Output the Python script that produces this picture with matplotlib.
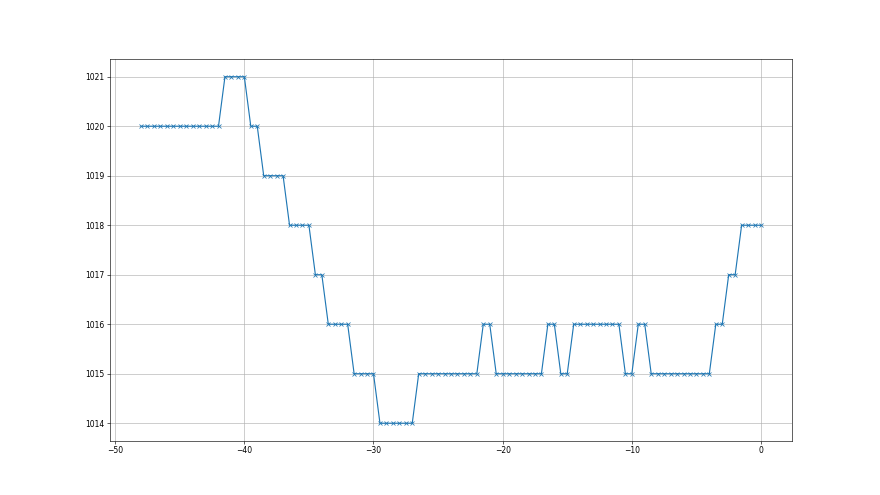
import matplotlib
matplotlib.use("Agg")
import matplotlib.pyplot as plt
import numpy as np

# time offsets, half-step spacing from -48 to 0
x_vals = np.arange(-48, 0.5, 0.5)

pressure = (
    [1020] * 13 + [1021] * 4 + [1020] * 2 + [1019] * 4 + [1018] * 4
    + [1017] * 2 + [1016] * 4 + [1015] * 4 + [1014] * 6 + [1015] * 10
    + [1016] * 2 + [1015] * 8 + [1016] * 2 + [1015] * 2 + [1016] * 8
    + [1015] * 2 + [1016] * 2 + [1015] * 10 + [1016] * 2 + [1017] * 2
    + [1018] * 4
)

fig, ax = plt.subplots(figsize=(16, 9), dpi=55)
ax.plot(x_vals, pressure, marker="x", color="#1f77b4", linewidth=1.5, markersize=6)
ax.grid(True, color="#b0b0b0", linewidth=0.8)

fig.savefig("out.png", dpi=55)
plt.close(fig)
